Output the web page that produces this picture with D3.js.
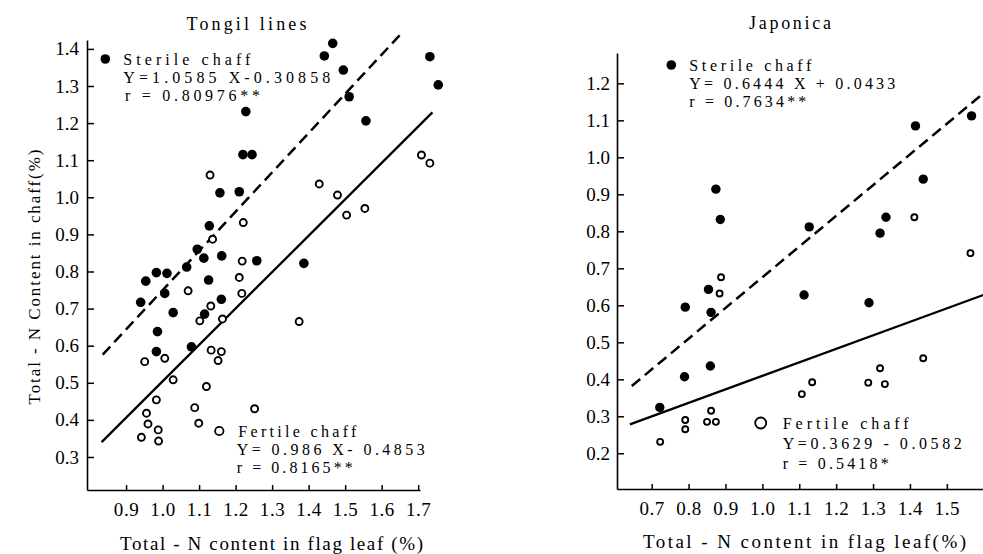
<!DOCTYPE html>
<html>
<head>
<meta charset="utf-8">
<script src="https://cdn.jsdelivr.net/npm/d3@7/dist/d3.min.js"></script>
<style>
  html, body { margin: 0; padding: 0; background: #fff; }
  svg { display: block; }
  text { font-family: "Liberation Serif", "Times New Roman", serif; fill: #000; }
</style>
</head>
<body>
<svg id="chart" width="983" height="554"></svg>
<script>
// ---------------- DATA ----------------
// Left panel: Tongil lines  [flag-leaf N %, chaff N %]
const tongilSterile = [
  [1.466,1.415],[1.443,1.381],[1.732,1.379],[1.495,1.343],[1.755,1.303],[1.511,1.271],
  [1.557,1.206],[1.228,1.231],[1.220,1.115],[1.245,1.115],[1.157,1.012],[1.210,1.015],
  [1.128,0.923],[1.095,0.860],[1.113,0.836],[1.162,0.842],[1.258,0.829],[1.387,0.822],
  [1.066,0.812],[0.954,0.774],[0.983,0.797],[1.012,0.795],[1.126,0.777],[1.006,0.741],
  [0.940,0.717],[1.029,0.689],[1.161,0.725],[1.115,0.685],[0.986,0.638],[0.983,0.584],
  [1.079,0.597]
];
const tongilFertile = [
  [1.130,1.060],[1.429,1.036],[1.479,1.006],[1.709,1.114],[1.732,1.092],[1.504,0.952],
  [1.554,0.970],[1.221,0.932],[1.137,0.887],[1.218,0.828],[1.210,0.784],[1.217,0.741],
  [1.070,0.748],[1.132,0.707],[1.102,0.667],[1.164,0.672],[0.951,0.557],[1.006,0.566],
  [1.133,0.588],[1.161,0.584],[1.152,0.560],[1.029,0.508],[1.120,0.490],[0.983,0.454],
  [1.088,0.433],[1.252,0.430],[0.956,0.418],[0.960,0.389],[1.099,0.391],[0.988,0.373],
  [0.942,0.353],[0.989,0.343],[1.374,0.665]
];
const tongilSterileLine = [[0.836,0.576],[1.659,1.447]];
const tongilFertileLine = [[0.833,0.340],[1.739,1.229]];
const tongilXTicks = [0.9,1.0,1.1,1.2,1.3,1.4,1.5,1.6,1.7];
const tongilYTicks = [0.3,0.4,0.5,0.6,0.7,0.8,0.9,1.0,1.1,1.2,1.3,1.4];

// Right panel: Japonica
const japSterile = [
  [0.874,0.914],[0.886,0.832],[0.854,0.643],[0.791,0.595],[0.861,0.581],[0.859,0.436],
  [0.789,0.407],[0.722,0.324],[1.127,0.812],[1.415,1.085],[1.567,1.112],[1.436,0.941],
  [1.335,0.838],[1.319,0.795],[1.113,0.628],[1.289,0.607]
];
const japFertile = [
  [0.888,0.676],[0.884,0.632],[0.723,0.231],[0.791,0.290],[0.791,0.265],[0.861,0.315],
  [0.850,0.285],[0.874,0.285],[1.412,0.838],[1.564,0.741],[1.436,0.457],[1.319,0.430],
  [1.287,0.391],[1.332,0.387],[1.135,0.392],[1.107,0.360]
];
const japSterileLine = [[0.646,0.382],[1.599,1.173]];
const japFertileLine = [[0.641,0.278],[1.599,0.628]];
const japXTicks = [0.7,0.8,0.9,1.0,1.1,1.2,1.3,1.4,1.5];
const japYTicks = [0.2,0.3,0.4,0.5,0.6,0.7,0.8,0.9,1.0,1.1,1.2];

// Texts
const titles = ["Tongil  lines", "Japonica"];
const xLabels = ["Total - N content  in flag leaf (%)", "Total - N content  in flag leaf(%)"];
const yLabel = "Total - N Content  in chaff(%)";
const tongilSterileText = ["Sterile  chaff", "Y=1.0585 X-0.30858", "r = 0.80976**"];
const tongilFertileText = ["Fertile  chaff", "Y= 0.986 X- 0.4853", "r = 0.8165**"];
const japSterileText = ["Sterile  chaff", "Y= 0.6444  X + 0.0433", "r = 0.7634**"];
const japFertileText = ["Fertile  chaff", "Y=0.3629 - 0.0582", "r = 0.5418*"];

// ---------------- DRAW ----------------
const svg = d3.select("#chart");
const fmt = d3.format(".1f");

function panel(cfg) {
  const x = d3.scaleLinear().domain(cfg.xDomain).range(cfg.xRange);
  const y = d3.scaleLinear().domain(cfg.yDomain).range(cfg.yRange);
  const g = svg.append("g");

  // axes
  const xAxis = d3.axisBottom(x).tickValues(cfg.xTicks).tickFormat(fmt)
    .tickSizeInner(-5).tickSizeOuter(0).tickPadding(13);
  const yAxis = d3.axisLeft(y).tickValues(cfg.yTicks).tickFormat(fmt)
    .tickSizeInner(-7).tickSizeOuter(0).tickPadding(cfg.yPad);
  const gx = g.append("g").attr("transform", `translate(0,${cfg.yRange[0]})`).call(xAxis);
  const gy = g.append("g").attr("transform", `translate(${cfg.xRange[0]},0)`).call(yAxis);
  [gx, gy].forEach(a => {
    a.select(".domain").attr("stroke", "#000").attr("stroke-width", 1.6);
    a.selectAll(".tick line").attr("stroke", "#000").attr("stroke-width", 1.5);
    a.selectAll(".tick text").attr("font-family", "Liberation Serif")
      .attr("font-size", 19).attr("fill", "#000");
  });
  gx.selectAll(".tick text").attr("letter-spacing", 0.6);

  // regression lines
  const line = d3.line().x(d => x(d[0])).y(d => y(d[1]));
  g.append("path").datum(cfg.sLine).attr("d", line).attr("fill", "none")
    .attr("stroke", "#000").attr("stroke-width", 2.5).attr("stroke-dasharray", "11,6");
  g.append("path").datum(cfg.fLine).attr("d", line).attr("fill", "none")
    .attr("stroke", "#000").attr("stroke-width", 2.3);

  // points
  g.selectAll("circle.s").data(cfg.sterile).join("circle").attr("class", "s")
    .attr("cx", d => x(d[0])).attr("cy", d => y(d[1])).attr("r", cfg.rS).attr("fill", "#000");
  g.selectAll("circle.f").data(cfg.fertile).join("circle").attr("class", "f")
    .attr("cx", d => x(d[0])).attr("cy", d => y(d[1])).attr("r", cfg.rF)
    .attr("fill", "#fff").attr("stroke", "#000").attr("stroke-width", 1.9);

  // title
  g.append("text").attr("x", cfg.title.x).attr("y", cfg.title.y).attr("text-anchor", "middle")
    .attr("font-size", 18).attr("textLength", cfg.title.w).attr("lengthAdjust", "spacing")
    .text(cfg.title.t);
  // x label
  g.append("text").attr("x", cfg.xl.x).attr("y", cfg.xl.y)
    .attr("font-size", 19).attr("textLength", cfg.xl.w).attr("lengthAdjust", "spacing")
    .text(cfg.xl.t);

  // annotations
  function annot(a, lines) {
    lines.forEach((t, i) => {
      g.append("text").attr("x", a.x[i]).attr("y", a.y[i]).attr("font-size", 16)
        .attr("textLength", a.w[i]).attr("lengthAdjust", "spacing").text(t);
    });
  }
  annot(cfg.sA, cfg.sText);
  annot(cfg.fA, cfg.fText);
  // legend markers in front of first annotation line
  g.append("circle").attr("cx", cfg.sA.x[0] - 18).attr("cy", cfg.sA.y[0] - 6)
    .attr("r", 4.8).attr("fill", "#000");
  g.append("circle").attr("cx", cfg.fA.x[0] - cfg.fA.gap).attr("cy", cfg.fA.y[0] - 6)
    .attr("r", cfg.fA.r).attr("fill", "#fff").attr("stroke", "#000").attr("stroke-width", 1.8);
}

panel({
  xDomain: [0.793, 1.705], xRange: [87, 420],
  yDomain: [0.211, 1.424], yRange: [490, 40],
  xTicks: tongilXTicks, yTicks: tongilYTicks, yPad: 8,
  sterile: tongilSterile, fertile: tongilFertile,
  sLine: tongilSterileLine, fLine: tongilFertileLine,
  rS: 4.8, rF: 3.5,
  title: {t: titles[0], x: 246.5, y: 30, w: 120},
  xl: {t: xLabels[0], x: 120, y: 550, w: 303},
  sText: tongilSterileText, fText: tongilFertileText,
  sA: {x: [123.3, 123.3, 125], y: [65, 83, 101], w: [127, 207, 135]},
  fA: {x: [238.3, 236.7, 236.7], y: [437, 455, 473], w: [118, 188, 116], gap: 19, r: 4.2}
});

panel({
  xDomain: [0.606, 1.598], xRange: [617, 983],
  yDomain: [0.1035, 1.282], yRange: [489, 53],
  xTicks: japXTicks, yTicks: japYTicks, yPad: 7,
  sterile: japSterile, fertile: japFertile,
  sLine: japSterileLine, fLine: japFertileLine,
  rS: 4.7, rF: 3.0,
  title: {t: titles[1], x: 790, y: 29, w: 82},
  xl: {t: xLabels[1], x: 643, y: 548, w: 323},
  sText: japSterileText, fText: japFertileText,
  sA: {x: [689.3, 689.3, 689.3], y: [71, 89, 107], w: [122, 206, 117]},
  fA: {x: [782.7, 782.7, 782.7], y: [429, 449, 469], w: [126, 179, 106], gap: 22, r: 5.5}
});

// shared y label
svg.append("text")
  .attr("transform", "translate(40,277) rotate(-90)")
  .attr("text-anchor", "middle").attr("font-size", 17)
  .attr("textLength", 255).attr("lengthAdjust", "spacing")
  .text(yLabel);
</script>
</body>
</html>
